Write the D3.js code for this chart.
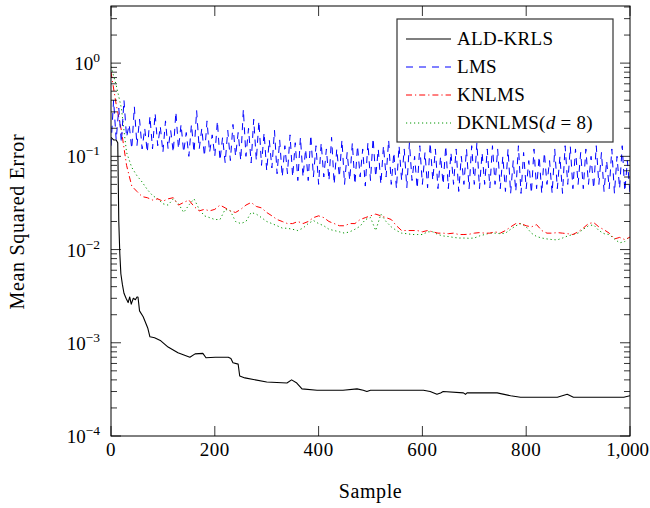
<!DOCTYPE html>
<html>
<head>
<meta charset="utf-8">
<script src="https://cdn.jsdelivr.net/npm/d3@7"></script>
<style>
body { margin: 0; background: #fff; }
svg { font-family: "Liberation Serif", "Times New Roman", serif; }
</style>
</head>
<body>
<svg width="650" height="508"></svg>
<script>
var sampleTicks = [0, 200, 400, 600, 800, 1000];
var sampleTickLabels = ["0", "200", "400", "600", "800", "1,000"];
var mseExponents = [0, -1, -2, -3, -4];

var seriesNames = ["ALD-KRLS", "LMS", "KNLMS", "DKNLMS"];

// ALD-KRLS, read at irregular sample positions
var aldSample = [0, 5, 10, 13, 15, 17, 19, 22, 25, 29,
	33, 36, 39, 43, 47, 50, 52, 55, 62, 71,
	75, 84, 96, 110, 129, 152, 162, 177, 183, 201,
	226, 231, 235, 245, 248, 258, 300, 339, 348, 358,
	368, 397, 447, 474, 486, 493, 500, 538, 602, 615,
	628, 635, 640, 679, 683, 686, 744, 770, 789, 860,
	879, 891, 924, 988, 1000];
var aldMse = [0.16, 0.15, 0.15, 0.14, 0.02, 0.009, 0.0055, 0.0042, 0.0034, 0.0030,
	0.0027, 0.0031, 0.0026, 0.0030, 0.0029, 0.0031, 0.0031, 0.0022, 0.0019, 0.00143,
	0.00116, 0.00113, 0.00105, 0.00090, 0.00078, 0.00070, 0.00076, 0.00077, 0.00069, 0.00070,
	0.00070, 0.00068, 0.00061, 0.00059, 0.00044, 0.00042, 0.00038, 0.00037, 0.00040, 0.00037,
	0.00032, 0.00031, 0.00031, 0.00032, 0.00031, 0.00030, 0.00031, 0.00031, 0.00031, 0.00030,
	0.00028, 0.00029, 0.00030, 0.00029, 0.00028, 0.00029, 0.00029, 0.00027, 0.00026, 0.00026,
	0.00028, 0.00026, 0.00026, 0.00026, 0.00027];

// LMS, every 5 samples (0..1000)
var lmsMse = [
	0.13, 0.40, 0.15, 0.33, 0.14, 0.40, 0.16, 0.22, 0.12, 0.34, 0.13, 0.25, 0.12, 0.20, 0.11, 0.27, 0.12, 0.29, 0.13, 0.21,
	0.11, 0.24, 0.12, 0.19, 0.11, 0.30, 0.12, 0.22, 0.11, 0.18, 0.10, 0.22, 0.11, 0.31, 0.12, 0.20, 0.10, 0.24, 0.11, 0.17,
	0.10, 0.24, 0.09, 0.16, 0.085, 0.19, 0.09, 0.22, 0.10, 0.18, 0.09, 0.32, 0.10, 0.20, 0.085, 0.25, 0.09, 0.24, 0.08, 0.18,
	0.07, 0.15, 0.075, 0.19, 0.065, 0.15, 0.06, 0.13, 0.065, 0.17, 0.06, 0.14, 0.055, 0.16, 0.06, 0.12, 0.055, 0.17, 0.06, 0.13,
	0.05, 0.14, 0.06, 0.12, 0.055, 0.16, 0.05, 0.12, 0.06, 0.15, 0.05, 0.11, 0.055, 0.14, 0.05, 0.13, 0.06, 0.12, 0.048, 0.14,
	0.055, 0.157, 0.06, 0.12, 0.05, 0.13, 0.06, 0.15, 0.05, 0.11, 0.045, 0.13, 0.055, 0.12, 0.046, 0.14, 0.055, 0.10, 0.045, 0.13,
	0.05, 0.11, 0.046, 0.14, 0.055, 0.12, 0.045, 0.10, 0.05, 0.13, 0.045, 0.11, 0.05, 0.12, 0.042, 0.10, 0.05, 0.12, 0.045, 0.13,
	0.05, 0.14, 0.045, 0.11, 0.05, 0.12, 0.046, 0.13, 0.05, 0.12, 0.045, 0.10, 0.042, 0.12, 0.04, 0.09, 0.042, 0.13, 0.04, 0.11,
	0.045, 0.09, 0.04, 0.12, 0.045, 0.10, 0.04, 0.11, 0.05, 0.09, 0.04, 0.12, 0.045, 0.10, 0.04, 0.13, 0.05, 0.127, 0.045, 0.12,
	0.05, 0.11, 0.045, 0.12, 0.05, 0.10, 0.045, 0.13, 0.05, 0.11, 0.042, 0.09, 0.045, 0.12, 0.04, 0.10, 0.045, 0.13, 0.042, 0.09,
	0.04];

// KNLMS and DKNLMS, every 10 samples (0..1000)
var knlmsMse = [
	0.80, 0.36, 0.19, 0.08, 0.048, 0.042, 0.037, 0.036, 0.034, 0.035,
	0.033, 0.035, 0.036, 0.030, 0.032, 0.034, 0.029, 0.026, 0.027, 0.026,
	0.027, 0.030, 0.028, 0.026, 0.025, 0.027, 0.030, 0.032, 0.029, 0.028,
	0.025, 0.023, 0.021, 0.020, 0.019, 0.019, 0.020, 0.019, 0.020, 0.022,
	0.023, 0.022, 0.020, 0.019, 0.018, 0.018, 0.019, 0.019, 0.021, 0.022,
	0.023, 0.024, 0.023, 0.022, 0.021, 0.018, 0.016, 0.016, 0.016, 0.016,
	0.0155, 0.016, 0.0155, 0.015, 0.015, 0.0148, 0.015, 0.0145, 0.0145, 0.0146,
	0.015, 0.0152, 0.015, 0.015, 0.0155, 0.015, 0.016, 0.0175, 0.019, 0.019,
	0.018, 0.0175, 0.0185, 0.016, 0.015, 0.015, 0.0152, 0.015, 0.0148, 0.0145,
	0.0155, 0.017, 0.019, 0.0195, 0.0175, 0.0163, 0.015, 0.013, 0.0135, 0.0128,
	0.0136];
var dknlmsMse = [
	0.92, 0.58, 0.33, 0.11, 0.076, 0.062, 0.053, 0.044, 0.038, 0.035,
	0.031, 0.030, 0.035, 0.031, 0.025, 0.030, 0.035, 0.027, 0.023, 0.022,
	0.021, 0.021, 0.027, 0.026, 0.020, 0.019, 0.020, 0.025, 0.024, 0.022,
	0.020, 0.019, 0.018, 0.017, 0.0169, 0.0165, 0.016, 0.017, 0.019, 0.0205,
	0.019, 0.018, 0.0165, 0.016, 0.0155, 0.015, 0.0155, 0.0165, 0.0178, 0.021,
	0.022, 0.016, 0.024, 0.020, 0.0175, 0.016, 0.015, 0.0148, 0.0145, 0.0145,
	0.0145, 0.0155, 0.0155, 0.0145, 0.014, 0.0138, 0.0135, 0.0133, 0.0133, 0.0132,
	0.0133, 0.014, 0.0145, 0.015, 0.015, 0.0148, 0.015, 0.0165, 0.018, 0.019,
	0.0175, 0.015, 0.0138, 0.0133, 0.013, 0.0128, 0.0127, 0.0133, 0.014, 0.0145,
	0.015, 0.0165, 0.018, 0.0184, 0.016, 0.0148, 0.0145, 0.013, 0.0118, 0.0122,
	0.014];

var svg = d3.select("svg");

var x = d3.scaleLinear().domain([0, 1000]).range([111, 630]);
var y = d3.scaleLog().domain([1e-4, 4.1]).range([436, 6]);

function pairs(xs, ys) {
	return ys.map(function (v, i) { return [xs[i], v]; });
}

var series = [
	{name: seriesNames[0], data: pairs(aldSample, aldMse), color: "#000", dash: null, width: 1.1},
	{name: seriesNames[1], data: pairs(d3.range(0, 1001, 5), lmsMse), color: "#0000ff", dash: "7,6", width: 1},
	{name: seriesNames[2], data: pairs(d3.range(0, 1001, 10), knlmsMse), color: "#ff0000", dash: "6,3,1.2,3", width: 1},
	{name: seriesNames[3], data: pairs(d3.range(0, 1001, 10), dknlmsMse), color: "#009600", dash: "1.2,2.8", width: 1}
];

svg.append("clipPath").attr("id", "plot-clip")
	.append("rect")
	.attr("x", 111).attr("y", 6)
	.attr("width", 519).attr("height", 430);

var line = d3.line()
	.x(function (d) { return x(d[0]); })
	.y(function (d) { return y(d[1]); });

svg.append("g").attr("clip-path", "url(#plot-clip)")
	.selectAll("path")
	.data(series.slice().reverse())
	.enter()
	.append("path")
	.attr("d", function (d) { return line(d.data); })
	.attr("fill", "none")
	.attr("stroke", function (d) { return d.color; })
	.attr("stroke-width", function (d) { return d.width; })
	.attr("stroke-dasharray", function (d) { return d.dash; })
	.attr("stroke-linejoin", "round");

// ticks (inward, mirrored on all sides)
var ticks = svg.append("g").attr("stroke", "#000").attr("stroke-width", 0.8);

sampleTicks.forEach(function (t) {
	ticks.append("line").attr("x1", x(t)).attr("x2", x(t)).attr("y1", 436).attr("y2", 426);
	ticks.append("line").attr("x1", x(t)).attr("x2", x(t)).attr("y1", 6).attr("y2", 16);
});

mseExponents.forEach(function (e) {
	var v = Math.pow(10, e);
	ticks.append("line").attr("x1", 111).attr("x2", 121).attr("y1", y(v)).attr("y2", y(v));
	ticks.append("line").attr("x1", 630).attr("x2", 620).attr("y1", y(v)).attr("y2", y(v));
	for (var m = 2; m <= 9; m++) {
		var mv = m * v;
		if (mv >= 4.1) continue;
		ticks.append("line").attr("x1", 111).attr("x2", 117).attr("y1", y(mv)).attr("y2", y(mv));
		ticks.append("line").attr("x1", 630).attr("x2", 624).attr("y1", y(mv)).attr("y2", y(mv));
	}
});

// frame
svg.append("rect")
	.attr("x", 111).attr("y", 6)
	.attr("width", 519).attr("height", 430)
	.attr("fill", "none")
	.attr("stroke", "#000")
	.attr("stroke-width", 1);

// x tick labels (last one kept inside the page edge)
svg.append("g").selectAll("text")
	.data(sampleTicks)
	.enter()
	.append("text")
	.attr("x", function (d, i) { return i === sampleTicks.length - 1 ? 649 : x(d); })
	.attr("y", 456)
	.attr("text-anchor", function (d, i) { return i === sampleTicks.length - 1 ? "end" : "middle"; })
	.attr("font-size", 19)
	.attr("letter-spacing", function (d, i) { return i === sampleTicks.length - 1 ? 0 : 0.6; })
	.text(function (d, i) { return sampleTickLabels[i]; });

// y tick labels, 10^e
var yLabels = svg.append("g").selectAll("text")
	.data(mseExponents)
	.enter()
	.append("text")
	.attr("x", 100)
	.attr("y", function (d) { return y(Math.pow(10, d)) + 7; })
	.attr("text-anchor", "end")
	.attr("font-size", 19);

yLabels.append("tspan").text("10");
yLabels.append("tspan")
	.attr("dy", -8)
	.attr("font-size", 13.5)
	.text(function (d) { return d < 0 ? "\u2212" + (-d) : "" + d; });

// axis titles
svg.append("text")
	.attr("x", x(500))
	.attr("y", 498)
	.attr("text-anchor", "middle")
	.attr("font-size", 20)
	.attr("letter-spacing", 0.6)
	.text("Sample");

svg.append("text")
	.attr("transform", "translate(24," + y(Math.pow(10, -1.7)) + ") rotate(-90)")
	.attr("text-anchor", "middle")
	.attr("font-size", 20)
	.attr("letter-spacing", 0.7)
	.text("Mean Squared Error");

// legend
var legend = svg.append("g");

legend.append("rect")
	.attr("x", 397).attr("y", 19)
	.attr("width", 216).attr("height", 123)
	.attr("fill", "#fff")
	.attr("stroke", "#333")
	.attr("stroke-width", 1.2);

var entries = legend.selectAll("g.entry")
	.data(series)
	.enter()
	.append("g")
	.attr("class", "entry")
	.attr("transform", function (d, i) { return "translate(0," + (39 + i * 28) + ")"; });

entries.append("line")
	.attr("x1", 406).attr("x2", 451)
	.attr("y1", 0).attr("y2", 0)
	.attr("stroke", function (d) { return d.color; })
	.attr("stroke-width", function (d) { return d.width; })
	.attr("stroke-dasharray", function (d) { return d.dash; });

entries.append("text")
	.attr("x", 457)
	.attr("y", 6)
	.attr("font-size", 19)
	.attr("letter-spacing", 0.3)
	.each(function (d) {
		var t = d3.select(this);
		if (d.name === "DKNLMS") {
			t.append("tspan").text("DKNLMS(");
			t.append("tspan").attr("font-style", "italic").text("d");
			t.append("tspan").attr("dx", 5).text("=");
			t.append("tspan").attr("dx", 5).text("8)");
		} else {
			t.text(d.name);
		}
	});
</script>
</body>
</html>
